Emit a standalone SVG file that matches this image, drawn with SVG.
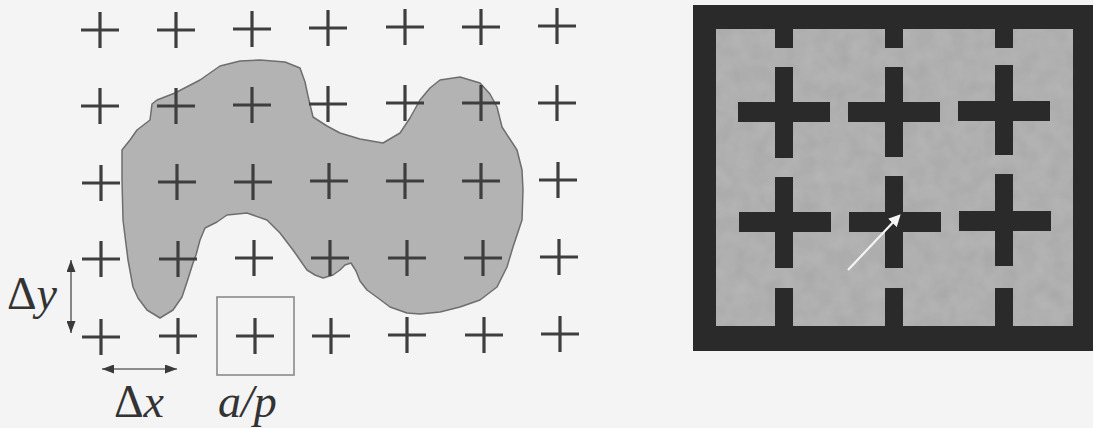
<svg xmlns="http://www.w3.org/2000/svg" xmlns:xlink="http://www.w3.org/1999/xlink" width="1093" height="428" viewBox="0 0 1093 428">
  <defs>
    <style>
      .cross { stroke: #3e3e3e; stroke-width: 3.2; fill: none; }
      .dim { stroke: #6a6a6a; stroke-width: 1.6; fill: none; }
      .lbl { font-family: "Liberation Serif", "Times New Roman", serif; font-size: 46px; fill: #333; }
      .it { font-style: italic; }
      .dk { fill: #2a2a2a; }
    </style>
    <path id="c" class="cross" d="M-19,0H19M0,-18V18"/>
    <marker id="ah" viewBox="0 0 12 9" refX="12" refY="4.5" markerWidth="13" markerHeight="9" orient="auto-start-reverse" markerUnits="userSpaceOnUse">
      <path d="M0,0L12,4.5L0,9z" fill="#3a3a3a"/>
    </marker>
    <marker id="wh" viewBox="0 0 10 10" refX="8" refY="5" markerWidth="12" markerHeight="12" orient="auto" markerUnits="userSpaceOnUse">
      <path d="M0,0L10,5L0,10z" fill="#f4f4f4"/>
    </marker>
    <filter id="tex" x="0" y="0" width="100%" height="100%">
      <feTurbulence type="fractalNoise" baseFrequency="0.06" numOctaves="2" seed="3" result="n"/>
      <feColorMatrix in="n" type="matrix" values="0 0 0 0 0.62  0 0 0 0 0.62  0 0 0 0 0.62  0 0 0 0.35 0" result="g"/>
      <feComposite in="g" in2="SourceGraphic" operator="in" result="gi"/>
      <feMerge><feMergeNode in="SourceGraphic"/><feMergeNode in="gi"/></feMerge>
    </filter>
  </defs>

  <rect width="1093" height="428" fill="#f4f4f4"/>

  <g id="blob">
    <path d="M157,100 L175,93 L200,80 L220,66 L240,61 L260,60 L285,62 L300,68 L305,82 L308,96 L313,117 L327,126 L340,133 L360,139 L383,143 L400,133 L410,118 L420,100 L430,88 L440,80 L460,77 L480,83 L490,94 L497,107 L502,127 L517,150 L522,170 L523,190 L522,220 L513,247 L507,267 L497,287 L480,300 L460,307 L440,312 L420,314 L407,313 L390,307 L378,298 L367,290 L360,281 L356,271 L351,263 L345,265 L340,270 L333,275 L323,278 L315,275 L307,270 L293,250 L280,233 L267,220 L247,213 L227,215 L217,222 L205,228 L200,240 L196,255 L193,263 L187,282 L182,297 L173,310 L160,318 L147,310 L138,298 L133,287 L128,260 L123,220 L122,180 L122,150 L130,140 L137,130 L150,120 L152,104 Z" fill="#b3b3b3" stroke="#6e6e6e" stroke-width="1.5" stroke-linejoin="round"/>
  </g>

  <g id="grid">
    <use xlink:href="#c" x="100" y="30"/><use xlink:href="#c" x="176" y="30"/><use xlink:href="#c" x="252" y="29"/><use xlink:href="#c" x="328" y="28"/><use xlink:href="#c" x="405" y="27"/><use xlink:href="#c" x="481" y="27"/><use xlink:href="#c" x="557" y="26"/>
    <use xlink:href="#c" x="100" y="106"/><use xlink:href="#c" x="176" y="106"/><use xlink:href="#c" x="252" y="105"/><use xlink:href="#c" x="328" y="104"/><use xlink:href="#c" x="405" y="103"/><use xlink:href="#c" x="481" y="103"/><use xlink:href="#c" x="557" y="103"/>
    <use xlink:href="#c" x="101" y="183"/><use xlink:href="#c" x="177" y="182"/><use xlink:href="#c" x="253" y="182"/><use xlink:href="#c" x="329" y="181"/><use xlink:href="#c" x="405" y="181"/><use xlink:href="#c" x="481" y="181"/><use xlink:href="#c" x="558" y="180"/>
    <use xlink:href="#c" x="101" y="259"/><use xlink:href="#c" x="178" y="259"/><use xlink:href="#c" x="254" y="258"/><use xlink:href="#c" x="330" y="258"/><use xlink:href="#c" x="407" y="258"/><use xlink:href="#c" x="483" y="258"/><use xlink:href="#c" x="559" y="257"/>
    <use xlink:href="#c" x="101" y="337"/><use xlink:href="#c" x="178" y="336"/><use xlink:href="#c" x="255" y="336"/><use xlink:href="#c" x="331" y="336"/><use xlink:href="#c" x="407" y="335"/><use xlink:href="#c" x="484" y="335"/><use xlink:href="#c" x="560" y="334"/>
  </g>

  <g id="cell">
    <rect x="217" y="297" width="77" height="78" fill="none" stroke="#8a8a8a" stroke-width="1.6"/>
  </g>

  <g id="connectors">
    <line class="dim" x1="71" y1="260" x2="71" y2="333" marker-start="url(#ah)" marker-end="url(#ah)"/>
    <line class="dim" x1="102" y1="369" x2="177" y2="369" marker-start="url(#ah)" marker-end="url(#ah)"/>
  </g>

  <g id="labels">
    <text class="lbl" x="7" y="309">Δ<tspan class="it">y</tspan></text>
    <text class="lbl" x="114" y="417">Δ<tspan class="it">x</tspan></text>
    <text class="lbl it" x="218" y="417">a/p</text>
  </g>

  <g id="target">
    <rect class="dk" x="693" y="5" width="400" height="346"/>
    <rect x="716" y="29" width="357" height="297" fill="#a8a8a8" filter="url(#tex)"/>
    <g class="dk">
      <rect x="775" y="29" width="18" height="19"/>
      <rect x="885" y="29" width="18" height="19"/>
      <rect x="995" y="29" width="18" height="19"/>
      <rect x="775" y="288" width="18" height="38"/>
      <rect x="885" y="288" width="18" height="38"/>
      <rect x="995" y="288" width="18" height="38"/>
      <rect x="738" y="102" width="92" height="20"/><rect x="775" y="67" width="18" height="91"/>
      <rect x="848" y="102" width="92" height="20"/><rect x="885" y="67" width="18" height="90"/>
      <rect x="958" y="101" width="92" height="20"/><rect x="995" y="65" width="18" height="90"/>
      <rect x="739" y="212" width="92" height="20"/><rect x="775" y="177" width="18" height="91"/>
      <rect x="849" y="212" width="92" height="20"/><rect x="885" y="176" width="18" height="92"/>
      <rect x="959" y="211" width="92" height="20"/><rect x="995" y="174" width="18" height="92"/>
    </g>
    <line x1="848" y1="270" x2="899" y2="216" stroke="#f4f4f4" stroke-width="2.2" marker-end="url(#wh)"/>
  </g>
</svg>
